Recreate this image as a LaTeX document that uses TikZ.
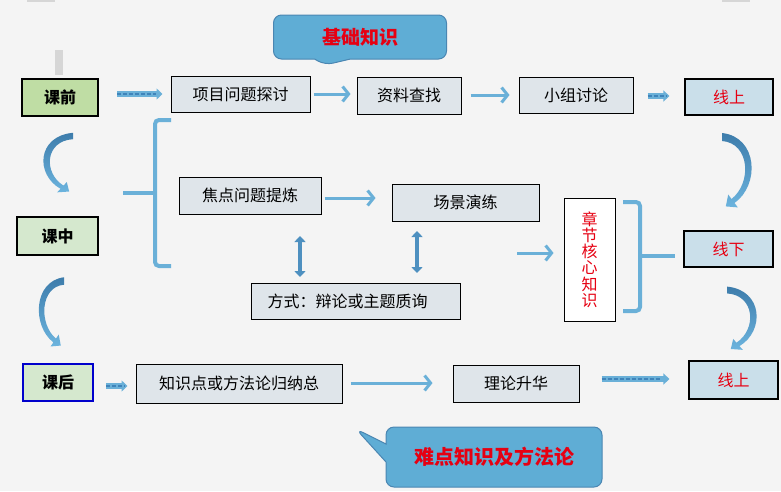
\documentclass[tikz,border=0pt]{standalone}
\usepackage{fontspec}
\setmainfont{Noto Sans CJK SC}
\usetikzlibrary{arrows.meta,shapes.callouts,positioning}
\definecolor{bgc}{HTML}{F4F4F4}
\definecolor{boxg}{HTML}{DFE5EA}
\definecolor{grn1}{HTML}{BFDDA4}
\definecolor{grn2}{HTML}{D5E8CE}
\definecolor{lblue}{HTML}{CADFEA}
\definecolor{arrb}{HTML}{6AB0D8}
\definecolor{darb}{HTML}{4E90C0}
\definecolor{dashb}{HTML}{3F84BA}
\definecolor{curvt}{HTML}{3D7CAB}
\definecolor{curvb}{HTML}{6CB4DE}
\definecolor{calf}{HTML}{5FADD5}
\definecolor{cald}{HTML}{4A86B2}
\definecolor{redt}{HTML}{E60012}
\definecolor{grayb}{HTML}{D6D6D6}
\tikzset{
  gbox/.style={draw=black, line width=1pt, fill=boxg, inner sep=0pt,
    font=\fontsize{16}{17}\selectfont},
  stagebox/.style={draw=black, line width=2.2pt, inner sep=0pt,
    font=\bfseries\fontsize{16}{17}\selectfont},
  onbox/.style={draw=black, line width=1.2pt, fill=lblue, inner sep=0pt,
    text=redt, font=\fontsize{16}{17}\selectfont},
  barrow/.style={draw=arrb, line width=3pt, -{Straight Barb[length=6pt,width=15pt]}},
  fatbase/.style={draw=arrb, line width=6.5pt, -{Triangle[length=6pt,width=11pt]}},
  fatdash/.style={draw=dashb, line width=2pt, dash pattern=on 4pt off 2pt},
  darrow/.style={draw=darb, line width=4.5pt,
    {Triangle[length=6pt,width=11pt]}-{Triangle[length=6pt,width=11pt]}},
  brak/.style={draw=arrb, line width=4pt, rounded corners=4pt},
  calloutbox/.style={rectangle callout, draw=cald, line width=1pt, fill=calf,
    rounded corners=8pt, inner sep=0pt, text=redt, font=\bfseries\fontsize{19}{20}\selectfont},
}
% crescent arrow in local coordinates (top start at origin, bulging to +x)
\newcommand\crescentpath{(0,-4) .. controls (36,0) and (38,48) .. (12.5,66) -- (15.8,70.4) -- (3.8,69.4) -- (6.2,57.6) -- (9.5,62) .. controls (30,46) and (28,6) .. (0,4) -- cycle}
\newcommand\fatarrow[2]{\draw[fatbase] #1 -- #2; \path #1 -- coordinate[pos=0.86] (fa-end) #2; \draw[fatdash] #1 -- (fa-end);}
\begin{document}
\begin{tikzpicture}[x=1pt,y=-1pt]
\fill[bgc] (0,0) rectangle (781,491);
\useasboundingbox (0,0) rectangle (781,491);
% faint artifacts
\fill[grayb] (27,0) rectangle (55,1.5);
\fill[grayb] (722,0) rectangle (750,1.5);
\fill[grayb] (55,50) rectangle (63,75);

% stage boxes
\node[stagebox, fill=grn1, minimum width=76pt, minimum height=37pt] (kq) at (60,97.5) {课前};
\node[stagebox, fill=grn2, minimum width=81pt, minimum height=38pt] (kz) at (57.5,236) {课中};
\node[stagebox, fill=grn2, draw=blue!80!black, minimum width=70pt, minimum height=37pt] (kh) at (58,382.5) {课后};

% top row
\node[gbox, minimum width=139pt, minimum height=36pt] (xm) at (240.5,94) {项目问题探讨};
\node[gbox, minimum width=104pt, minimum height=37pt] (zl) at (409,95.5) {资料查找};
\node[gbox, minimum width=114pt, minimum height=36pt] (xz) at (576,95) {小组讨论};
\node[onbox, minimum width=88pt, minimum height=36pt] (xs1) at (729,97) {线上};

% middle
\node[gbox, minimum width=142pt, minimum height=37pt] (jd) at (250,195.5) {焦点问题提炼};
\node[gbox, minimum width=147pt, minimum height=37pt] (cj) at (465.5,202.5) {场景演练};
\node[gbox, minimum width=209pt, minimum height=36pt] (fs) at (355.5,301) {\hspace*{-16pt}方式：辩论或主题质询};
\node[draw=black, line width=1pt, fill=white, minimum width=51pt, minimum height=123pt,
  inner sep=0pt, text=redt, align=center, font=\fontsize{16}{16.2}\selectfont] (zj) at (589.5,259.5)
  {章\\节\\核\\心\\知\\识};
\node[onbox, minimum width=89pt, minimum height=36pt] (xx) at (728.5,249) {线下};

% bottom row
\node[gbox, minimum width=206pt, minimum height=39pt] (zs) at (239,383.5) {知识点或方法论归纳总};
\node[gbox, minimum width=126pt, minimum height=37pt] (ll) at (516,383.5) {理论升华};
\node[onbox, minimum width=89pt, minimum height=38pt] (xs2) at (733.5,380) {线上};

% callouts
\node[calloutbox, minimum width=173pt, minimum height=44pt, callout absolute pointer={(325,65)},
  callout pointer width=36pt] (c1) at (360,37) {基础知识};
\node[calloutbox, minimum width=216pt, minimum height=60pt, callout absolute pointer={(356,429)},
  callout pointer width=18pt, font=\bfseries\fontsize{20}{21}\selectfont] (c2) at (494,457) {难点知识及方法论};

% straight arrows
\fatarrow{([xshift=18pt,yshift=3.5pt]kq.east)}{([xshift=-8pt]xm.west)}
\draw[barrow] ([xshift=3pt]xm.east) -- ([xshift=-6pt,yshift=1.5pt]zl.west);
\draw[barrow] ([xshift=9pt,yshift=0.5pt]zl.east) -- ([xshift=-9pt]xz.west);
\fatarrow{([xshift=14pt,yshift=-1pt]xz.east)}{([xshift=-15pt,yshift=1pt]xs1.west)}

\draw[barrow] ([xshift=3pt,yshift=-2.5pt]jd.east) -- ([xshift=-16pt,yshift=4.5pt]cj.west);
\coordinate (d1a) at (300,236);
\coordinate (d1b) at (300,277);
\draw[darrow] (d1a) -- (d1b);
\coordinate (d2a) at (417,231);
\coordinate (d2b) at (417,273);
\draw[darrow] (d2a) -- (d2b);
\coordinate (zin) at (517,253);
\draw[barrow] (zin) -- ([xshift=-10pt,yshift=6.5pt]zj.west);

\fatarrow{([xshift=12pt,yshift=-3.5pt]kh.east)}{([xshift=-8pt,yshift=-2.5pt]zs.west)}
\draw[barrow] ([xshift=8pt,yshift=0.5pt]zs.east) -- ([xshift=-20pt,yshift=0.5pt]ll.west);
\fatarrow{([xshift=22pt,yshift=4.5pt]ll.east)}{([xshift=-19pt,yshift=1pt]xs2.west)}

% brackets
\coordinate (lbt) at (171,120);
\coordinate (lbb) at (171,266);
\coordinate (lbm) at (123,193);
\draw[brak] (lbt) -- (155,120) -- (155,266) -- (lbb);
\draw[draw=arrb, line width=4pt] (lbm) -- (155,193);
\coordinate (rbt) at (623,202);
\coordinate (rbb) at (623,311);
\coordinate (rbm) at (675,256);
\draw[brak] (rbt) -- (640,202) -- (640,311) -- (rbb);
\draw[draw=arrb, line width=4pt] (640,256) -- (rbm);

% curved (crescent) arrows
\begin{scope}[shift={(73,136)}, xscale=-1, yscale=0.8]
  \shade[top color=curvt, bottom color=curvb] \crescentpath;
\end{scope}
\begin{scope}[shift={(64,281)}, xscale=-0.85, yscale=0.93]
  \shade[top color=curvt, bottom color=curvb] \crescentpath;
\end{scope}
\begin{scope}[shift={(722,137)}]
  \shade[top color=curvt, bottom color=curvb] \crescentpath;
\end{scope}
\begin{scope}[shift={(727,290)}, yscale=0.85]
  \shade[top color=curvt, bottom color=curvb] \crescentpath;
\end{scope}
\end{tikzpicture}
\end{document}
